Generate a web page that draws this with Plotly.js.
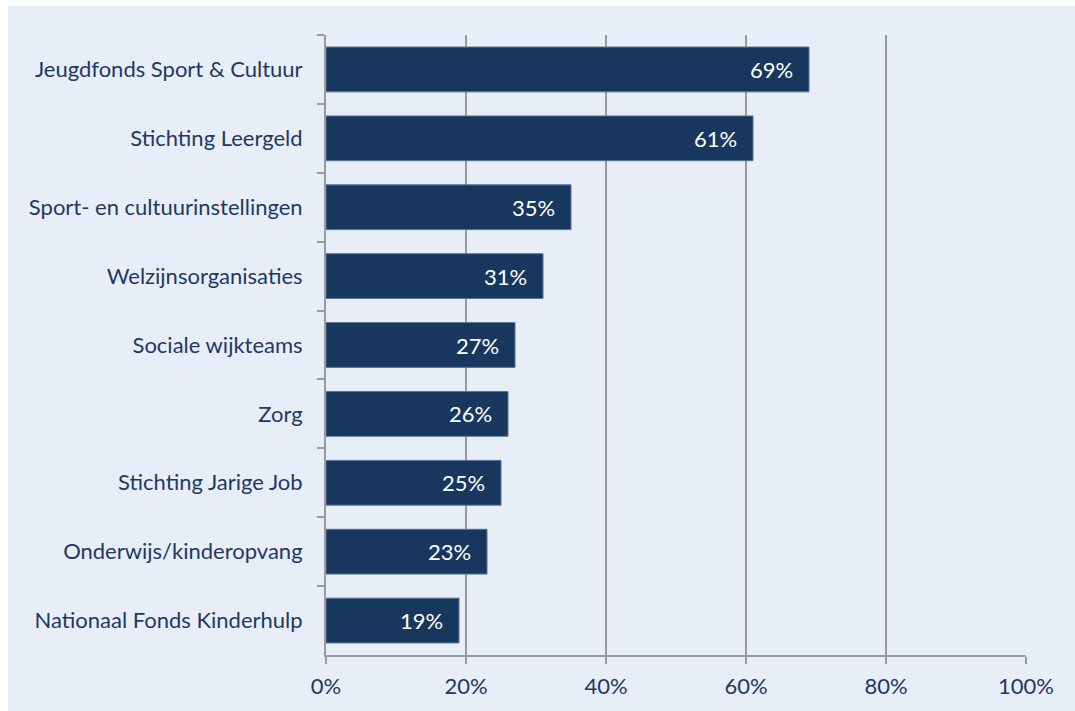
<!DOCTYPE html>
<html>
<head>
<meta charset="utf-8">
<script src="https://cdn.plot.ly/plotly-3.0.1.min.js"></script>
<style>
html,body{margin:0;padding:0;background:#ffffff;}
#chart{position:absolute;left:8px;top:6px;width:1067px;height:705px;}
</style>
</head>
<body>
<div id="chart"></div>
<script>
const categories = [
  "Jeugdfonds Sport & Cultuur",
  "Stichting Leergeld",
  "Sport- en cultuurinstellingen",
  "Welzijnsorganisaties",
  "Sociale wijkteams",
  "Zorg",
  "Stichting Jarige Job",
  "Onderwijs/kinderopvang",
  "Nationaal Fonds Kinderhulp"
];
const values = [69, 61, 35, 31, 27, 26, 25, 23, 19];
const tickVals = [0, 20, 40, 60, 80, 100];
const tickText = ["0%", "20%", "40%", "60%", "80%", "100%"];

const FONT = "Lato, 'Open Sans', sans-serif";
const NAVY = "#1f3864";
const BAR = "#17375e";
const FS = 22;

const trace = {
  type: "bar",
  orientation: "h",
  y: categories,
  x: values,
  marker: {color: BAR, line: {color: "#5a7396", width: 1}},
  hoverinfo: "none"
};

const annotations = values.map((v, i) => ({
  x: v, y: categories[i], xref: "x", yref: "y",
  text: v + "%", showarrow: false, xanchor: "right", xshift: -14,
  font: {family: FONT, size: FS, color: "#ffffff"}
}));

const layout = {
  width: 1067, height: 705,
  paper_bgcolor: "#e8eef7",
  plot_bgcolor: "#e8eef7",
  margin: {l: 318, r: 49, t: 29, b: 56},
  bargap: 0.35,
  showlegend: false,
  font: {family: FONT, size: FS, color: NAVY},
  xaxis: {
    range: [0, 100],
    tickvals: tickVals, ticktext: tickText,
    showgrid: true, gridcolor: "#9a9a9a", gridwidth: 2,
    zeroline: false,
    showline: true, linecolor: "#9a9a9a", linewidth: 2,
    ticks: "outside", ticklen: 7, tickcolor: "#9a9a9a", tickwidth: 2,
    ticklabelstandoff: 4,
    tickfont: {family: FONT, size: FS, color: NAVY},
    fixedrange: true
  },
  yaxis: {
    type: "category",
    autorange: "reversed",
    showline: true, linecolor: "#9a9a9a", linewidth: 2,
    ticks: "outside", ticklen: 7, tickcolor: "#9a9a9a", tickwidth: 2,
    tickson: "boundaries",
    showgrid: false,
    ticklabelstandoff: 17,
    tickfont: {family: FONT, size: FS, color: NAVY},
    fixedrange: true
  },
  annotations: annotations
};

Plotly.newPlot("chart", [trace], layout, {displayModeBar: false, staticPlot: true});
</script>
</body>
</html>
